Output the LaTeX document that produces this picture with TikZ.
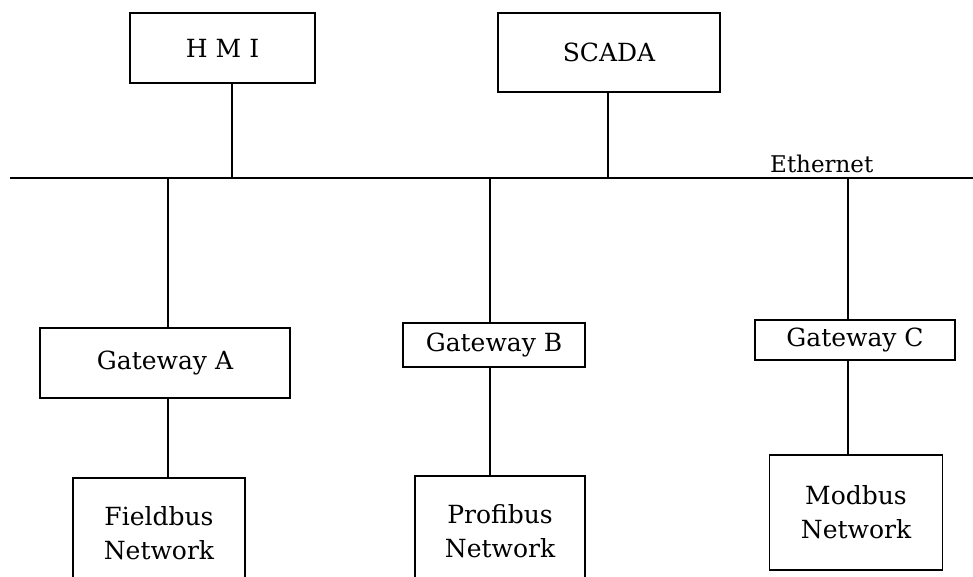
\documentclass[tikz,border=0pt]{standalone}
\usepackage{fontspec}
\setmainfont{DejaVu Serif}
\begin{document}
\begin{tikzpicture}[x=1pt,y=-1pt,
  unit/.style={draw=black, line width=1.4pt, fill=white, inner sep=0pt,
    align=center, font=\fontsize{25}{34}\selectfont, anchor=center},
  link/.style={draw=black, line width=1.2pt}]
\useasboundingbox[fill=white] (0,0) rectangle (973,576);

% upper level: operator stations
\node[unit, minimum width=185, minimum height=70] (hmi) at (222.5,48) {H\hspace{8pt}M\hspace{8pt}I};
\node[unit, minimum width=222, minimum height=79] (scada) at (609,52.5) {SCADA};

% Ethernet backbone
\coordinate (busL) at (10,178);
\coordinate (busR) at (973,178);
\draw[link] (busL) -- (busR);
\node[font=\fontsize{23}{27}\selectfont, anchor=base west, inner sep=0pt] (eth) at (770,172) {Ethernet};

% junctions on the backbone
\coordinate (jh) at (232,178);
\coordinate (js) at (608,178);
\coordinate (ja) at (168,178);
\coordinate (jb) at (490,178);
\coordinate (jc) at (848,178);

% gateways
\node[unit, minimum width=250, minimum height=70] (gwa) at (165,363) {Gateway A};
\node[unit, minimum width=182, minimum height=44] (gwb) at (494,345) {Gateway B};
\node[unit, minimum width=200, minimum height=40] (gwc) at (855,340) {Gateway C};

% field networks
\node[unit, minimum width=172, minimum height=110] (fb) at (159,533) {Fieldbus\\Network};
\node[unit, minimum width=170, minimum height=110] (pb) at (500,531) {Profibus\\Network};
\node[unit, minimum width=173, minimum height=115] (mb) at (856,512.5) {Modbus\\Network};

% stations to backbone
\draw[link] (hmi.south -| jh) -- (jh);
\draw[link] (scada.south -| js) -- (js);

% backbone to gateways
\draw[link] (ja) -- (gwa.north -| ja);
\draw[link] (jb) -- (gwb.north -| jb);
\draw[link] (jc) -- (gwc.north -| jc);

% gateways to field networks
\draw[link] (gwa.south -| ja) -- (fb.north -| ja);
\draw[link] (gwb.south -| jb) -- (pb.north -| jb);
\draw[link] (gwc.south -| jc) -- (mb.north -| jc);
\end{tikzpicture}
\end{document}
